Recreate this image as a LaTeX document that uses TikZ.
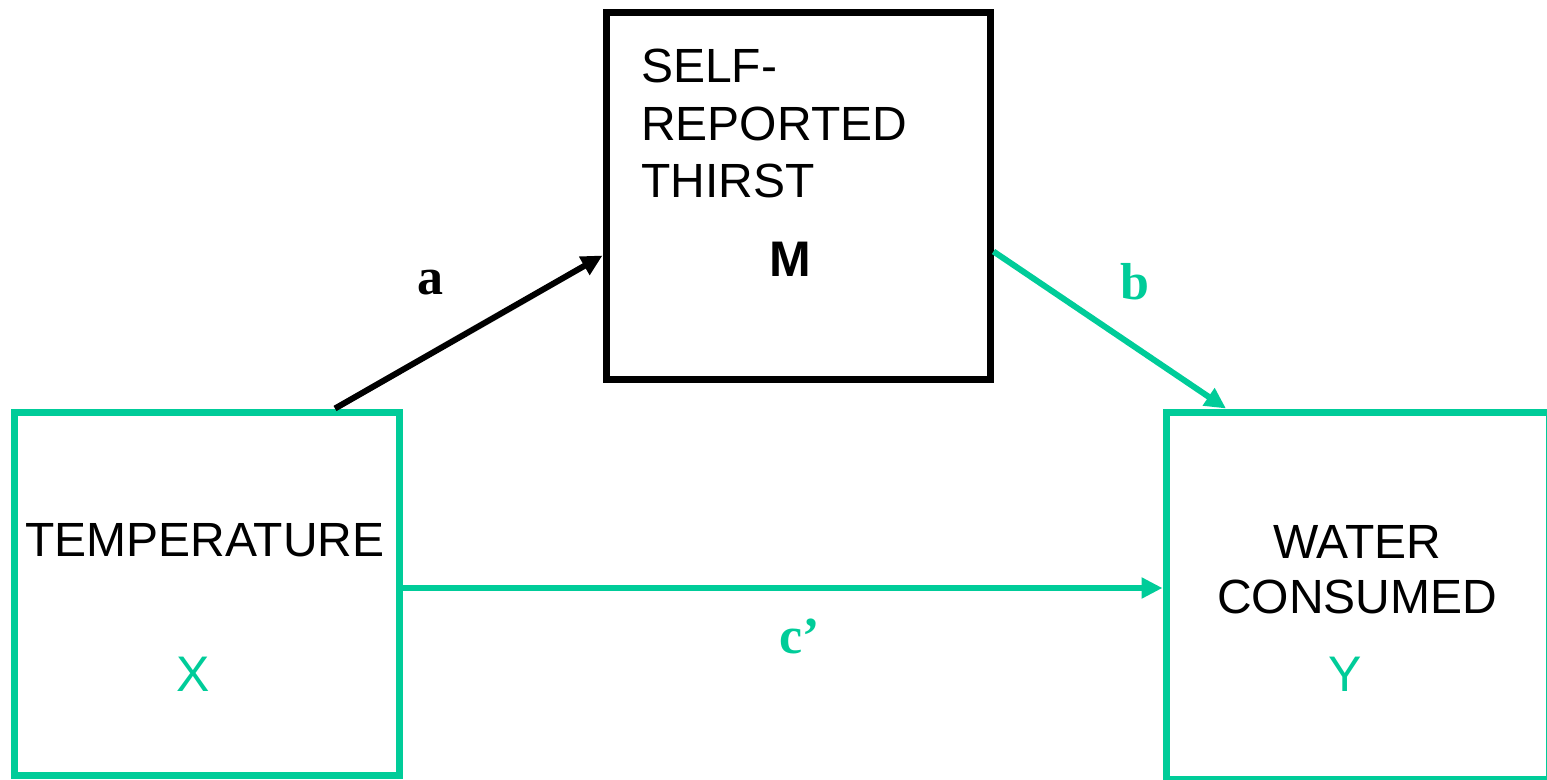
\documentclass[tikz,border=0pt]{standalone}
\usepackage{fontspec}
\setmainfont{Liberation Sans}
\newfontfamily\pathfont{Liberation Serif}
\usetikzlibrary{arrows.meta,positioning,calc}
\definecolor{medgreen}{RGB}{0,204,153}

\begin{document}
\begin{tikzpicture}[
  x=1pt,y=-1pt,
  font=\fontsize{48}{57.5}\selectfont,
  var/.style={draw,line width=7pt,inner sep=0pt},
  gvar/.style={var,draw=medgreen},
  txt/.style={inner sep=0pt,align=center},
  path lab/.style={font=\fontsize{52}{60}\selectfont\pathfont\bfseries,inner sep=0pt},
  arr/.style={-{Triangle[length=21pt,width=20pt]},line width=6pt}
]
\useasboundingbox (0,0) rectangle (1547,779);
\clip (0,0) rectangle (1547,779);

% ---------- variables ----------
\node[var,minimum width=384pt,minimum height=367pt] (med) at (798,195.5) {};
\node[gvar,minimum width=385pt,minimum height=363pt] (pred) at (206.5,593.5) {};
\node[gvar,minimum width=383pt,minimum height=367pt] (out) at (1357.5,595.5) {};

\node[txt,align=left,anchor=north west] (medname) at (641,49) {SELF-\\REPORTED\\THIRST};
\node[txt,font=\fontsize{50}{57}\selectfont] (medsym) at (790,259) {\bfseries M};
\node[txt] (predname) at (205,540) {TEMPERATURE};
\node[txt,text=medgreen,font=\fontsize{50}{57}\selectfont] (predsym) at (193,674) {X};
\node[txt,font=\fontsize{48}{55}\selectfont] (outname) at (1357,570) {WATER\\CONSUMED};
\node[txt,text=medgreen,font=\fontsize{50}{57}\selectfont] (outsym) at (1345,674) {Y};

% ---------- paths ----------
\coordinate (a0) at ([xshift=128.5pt]pred.north);
\coordinate (b0) at ([yshift=-56pt]med.east);
\coordinate (c0) at ([yshift=5.5pt]pred.east);
\draw[arr] (a0) -- ([yshift=-60pt]med.west);
\draw[arr,medgreen] (b0) -- ([xshift=-131.5pt]out.north);
\draw[arr,medgreen] (c0) -- (c0 -| out.west);

\node[path lab] (alab) at (430,283) {a};
\node[path lab,text=medgreen] (blab) at (1135,282) {b};
\node[path lab,text=medgreen] (clab) at (800,636) {c’};

\end{tikzpicture}
\end{document}
